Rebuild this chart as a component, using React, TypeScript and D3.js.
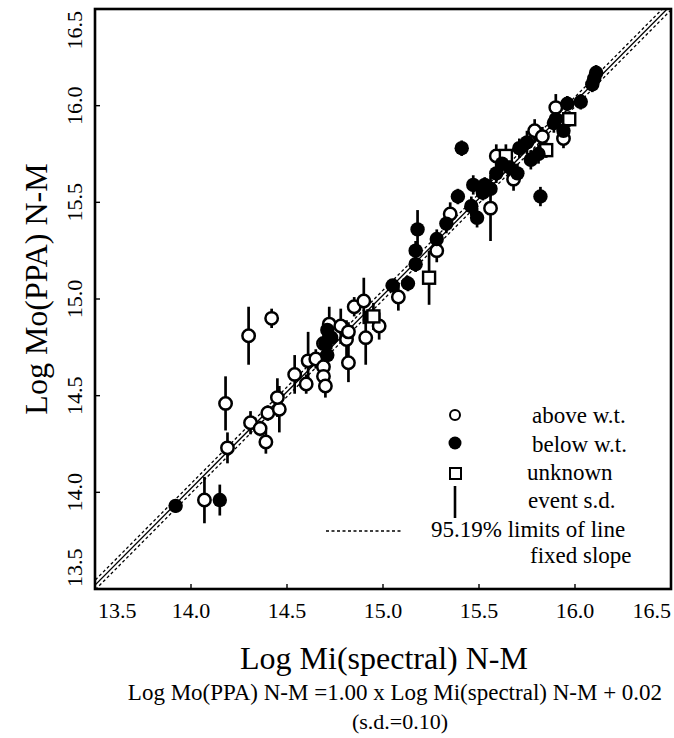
import React from "react";
import * as d3 from "d3";

// [log Mi(spectral), log Mo(PPA), event s.d.]
const aboveWT: [number, number, number][] = [
  [14.07, 13.96, 0.12], [14.19, 14.23, 0.08], [14.18, 14.46, 0.14], [14.30, 14.81, 0.15],
  [14.42, 14.90, 0.05], [14.31, 14.36, 0.06], [14.36, 14.33, 0.04], [14.39, 14.26, 0.06],
  [14.40, 14.41, 0.04], [14.46, 14.43, 0.12], [14.45, 14.49, 0.10], [14.54, 14.61, 0.10],
  [14.60, 14.56, 0.05], [14.61, 14.68, 0.15], [14.65, 14.69, 0.05], [14.69, 14.65, 0.13],
  [14.69, 14.60, 0.05], [14.70, 14.55, 0.06], [14.69, 14.77, 0.05], [14.72, 14.87, 0.09],
  [14.78, 14.86, 0.09], [14.81, 14.79, 0.10], [14.82, 14.83, 0.05], [14.82, 14.67, 0.10],
  [14.85, 14.96, 0.05], [14.90, 14.99, 0.12], [14.91, 14.80, 0.14], [14.98, 14.86, 0.07],
  [15.08, 15.01, 0.07], [15.28, 15.25, 0.06], [15.35, 15.44, 0.06], [15.56, 15.47, 0.17],
  [15.59, 15.74, 0.06], [15.68, 15.62, 0.06], [15.79, 15.87, 0.06], [15.83, 15.84, 0.05],
  [15.90, 15.99, 0.07], [15.94, 15.83, 0.05],
];

const belowWT: [number, number, number][] = [
  [13.92, 13.93, 0.035], [14.15, 13.96, 0.08], [14.71, 14.71, 0.06], [14.73, 14.80, 0.06],
  [14.71, 14.84, 0.05], [14.70, 14.77, 0.05], [15.05, 15.07, 0.03], [15.13, 15.08, 0.04],
  [15.17, 15.18, 0.04], [15.17, 15.25, 0.05], [15.18, 15.36, 0.10], [15.28, 15.31, 0.05],
  [15.33, 15.39, 0.05], [15.39, 15.53, 0.04], [15.41, 15.78, 0.04], [15.46, 15.48, 0.05],
  [15.49, 15.42, 0.05], [15.47, 15.59, 0.05], [15.53, 15.59, 0.04], [15.56, 15.57, 0.04],
  [15.59, 15.65, 0.05], [15.62, 15.70, 0.05], [15.70, 15.65, 0.05], [15.71, 15.78, 0.05],
  [15.75, 15.81, 0.06], [15.77, 15.72, 0.05], [15.81, 15.75, 0.05], [15.82, 15.53, 0.05],
  [15.89, 15.91, 0.05], [15.90, 15.93, 0.05], [15.94, 15.87, 0.04], [15.96, 16.01, 0.04],
  [16.03, 16.02, 0.04], [16.09, 16.11, 0.04], [16.10, 16.14, 0.04], [16.11, 16.17, 0.04],
  [15.66, 15.68, 0.05], [15.52, 15.55, 0.04],
];

const unknownWT: [number, number, number][] = [
  [14.95, 14.91, 0.07], [15.24, 15.11, 0.14], [15.64, 15.74, 0.06], [15.85, 15.77, 0.04],
  [15.97, 15.93, 0.04],
];

const tickValues = [13.5, 14.0, 14.5, 15.0, 15.5, 16.0, 16.5];
const fitSlope = 1.0;
const fitIntercept = 0.02;
const limitOffset = 0.025;

const legendItems = ["above w.t.", "below w.t.", "unknown", "event s.d."];

const FONT = "'Liberation Serif', 'Times New Roman', serif";

export default function App() {
  const W = 674, H = 738;
  const L = 95, R = 671, T = 9, B = 589;
  const x = d3.scaleLinear().domain([13.5, 16.5]).range([L, R]);
  const y = d3.scaleLinear().domain([13.5, 16.5]).range([B, T]);

  const lineOff = (off: number) =>
    d3.line<number>().x((v) => x(v)).y((v) => y(fitSlope * v + fitIntercept + off));
  const xs = [13.3, 16.7];

  const fmt = d3.format(".1f");

  const errBar = (d: [number, number, number], i: number, k: string) => (
    <line key={k + i} x1={x(d[0])} x2={x(d[0])} y1={y(d[1] - d[2])} y2={y(d[1] + d[2])}
      stroke="#000" strokeWidth={2.7} />
  );

  return (
    <svg width={W} height={H} style={{ position: "absolute", left: 0, top: 0, background: "#fff" }}
      fontFamily={FONT}>
      <defs>
        <clipPath id="plotClip">
          <rect x={L} y={T} width={R - L} height={B - T} />
        </clipPath>
      </defs>
      <rect x={0} y={0} width={W} height={H} fill="#fff" />

      <g clipPath="url(#plotClip)">
        <path d={lineOff(0)(xs) || ""} fill="none" stroke="#000" strokeWidth={1.3} />
        <path d={lineOff(limitOffset)(xs) || ""} fill="none" stroke="#000" strokeWidth={1.3} strokeDasharray="3,2.5" />
        <path d={lineOff(-limitOffset)(xs) || ""} fill="none" stroke="#000" strokeWidth={1.3} strokeDasharray="3,2.5" />

        {aboveWT.map((d, i) => errBar(d, i, "ea"))}
        {belowWT.map((d, i) => errBar(d, i, "eb"))}
        {unknownWT.map((d, i) => errBar(d, i, "eu"))}

        {aboveWT.map((d, i) => (
          <circle key={"a" + i} cx={x(d[0])} cy={y(d[1])} r={6.2} fill="#fff" stroke="#000" strokeWidth={2.5} />
        ))}
        {unknownWT.map((d, i) => (
          <rect key={"u" + i} x={x(d[0]) - 6} y={y(d[1]) - 6} width={12} height={12} fill="#fff" stroke="#000" strokeWidth={2.4} />
        ))}
        {belowWT.map((d, i) => (
          <circle key={"b" + i} cx={x(d[0])} cy={y(d[1])} r={7.2} fill="#000" />
        ))}
      </g>

      {/* frame */}
      <rect x={L} y={T} width={R - L} height={B - T} fill="none" stroke="#000" strokeWidth={2.6} />

      {/* ticks */}
      {tickValues.slice(1, -1).map((t) => (
        <g key={"t" + t}>
          <line x1={x(t)} x2={x(t)} y1={B} y2={B - 5} stroke="#000" strokeWidth={1.4} />
          <line x1={L} x2={L + 5} y1={y(t)} y2={y(t)} stroke="#000" strokeWidth={1.4} />
        </g>
      ))}

      {/* x tick labels */}
      {tickValues.map((t, i) => (
        <text key={"xl" + t} x={i === 0 ? L + 3 : i === tickValues.length - 1 ? R : x(t)} y={618}
          fontSize={22} textAnchor={i === 0 ? "start" : i === tickValues.length - 1 ? "end" : "middle"}>
          {fmt(t)}
        </text>
      ))}
      {/* y tick labels */}
      {tickValues.map((t, i) => {
        const yy = i === 0 ? B - 2 : i === tickValues.length - 1 ? T + 2 : y(t);
        return (
          <text key={"yl" + t} transform={`translate(82,${yy}) rotate(-90)`} fontSize={22}
            textAnchor={i === 0 ? "start" : i === tickValues.length - 1 ? "end" : "middle"}>
            {fmt(t)}
          </text>
        );
      })}

      {/* axis titles */}
      <text x={384} y={669} fontSize={32} textAnchor="middle">Log Mi(spectral) N-M</text>
      <text transform={`translate(47,${289}) rotate(-90)`} fontSize={32} textAnchor="middle">Log Mo(PPA) N-M</text>

      <text x={395} y={700} fontSize={23} textAnchor="middle">
        Log Mo(PPA) N-M =1.00 x Log Mi(spectral) N-M + 0.02
      </text>
      <text x={400} y={729} fontSize={22} textAnchor="middle">(s.d.=0.10)</text>

      {/* legend */}
      <circle cx={455} cy={415} r={5} fill="#fff" stroke="#000" strokeWidth={2} />
      <text x={532} y={423} fontSize={23}>{legendItems[0]}</text>
      <circle cx={455} cy={443} r={6.5} fill="#000" />
      <text x={532} y={452} fontSize={23}>{legendItems[1]}</text>
      <rect x={450} y={468} width={11} height={11} fill="#fff" stroke="#000" strokeWidth={2} />
      <text x={527} y={480} fontSize={23}>{legendItems[2]}</text>
      <line x1={455} x2={455} y1={486} y2={518} stroke="#000" strokeWidth={2.6} />
      <text x={528} y={508} fontSize={23}>{legendItems[3]}</text>
      <line x1={326} x2={402} y1={531} y2={531} stroke="#000" strokeWidth={1.3} strokeDasharray="3,2.5" />
      <text x={431} y={537} fontSize={23}>95.19% limits of line</text>
      <text x={530} y={563} fontSize={23}>fixed slope</text>
    </svg>
  );
}
